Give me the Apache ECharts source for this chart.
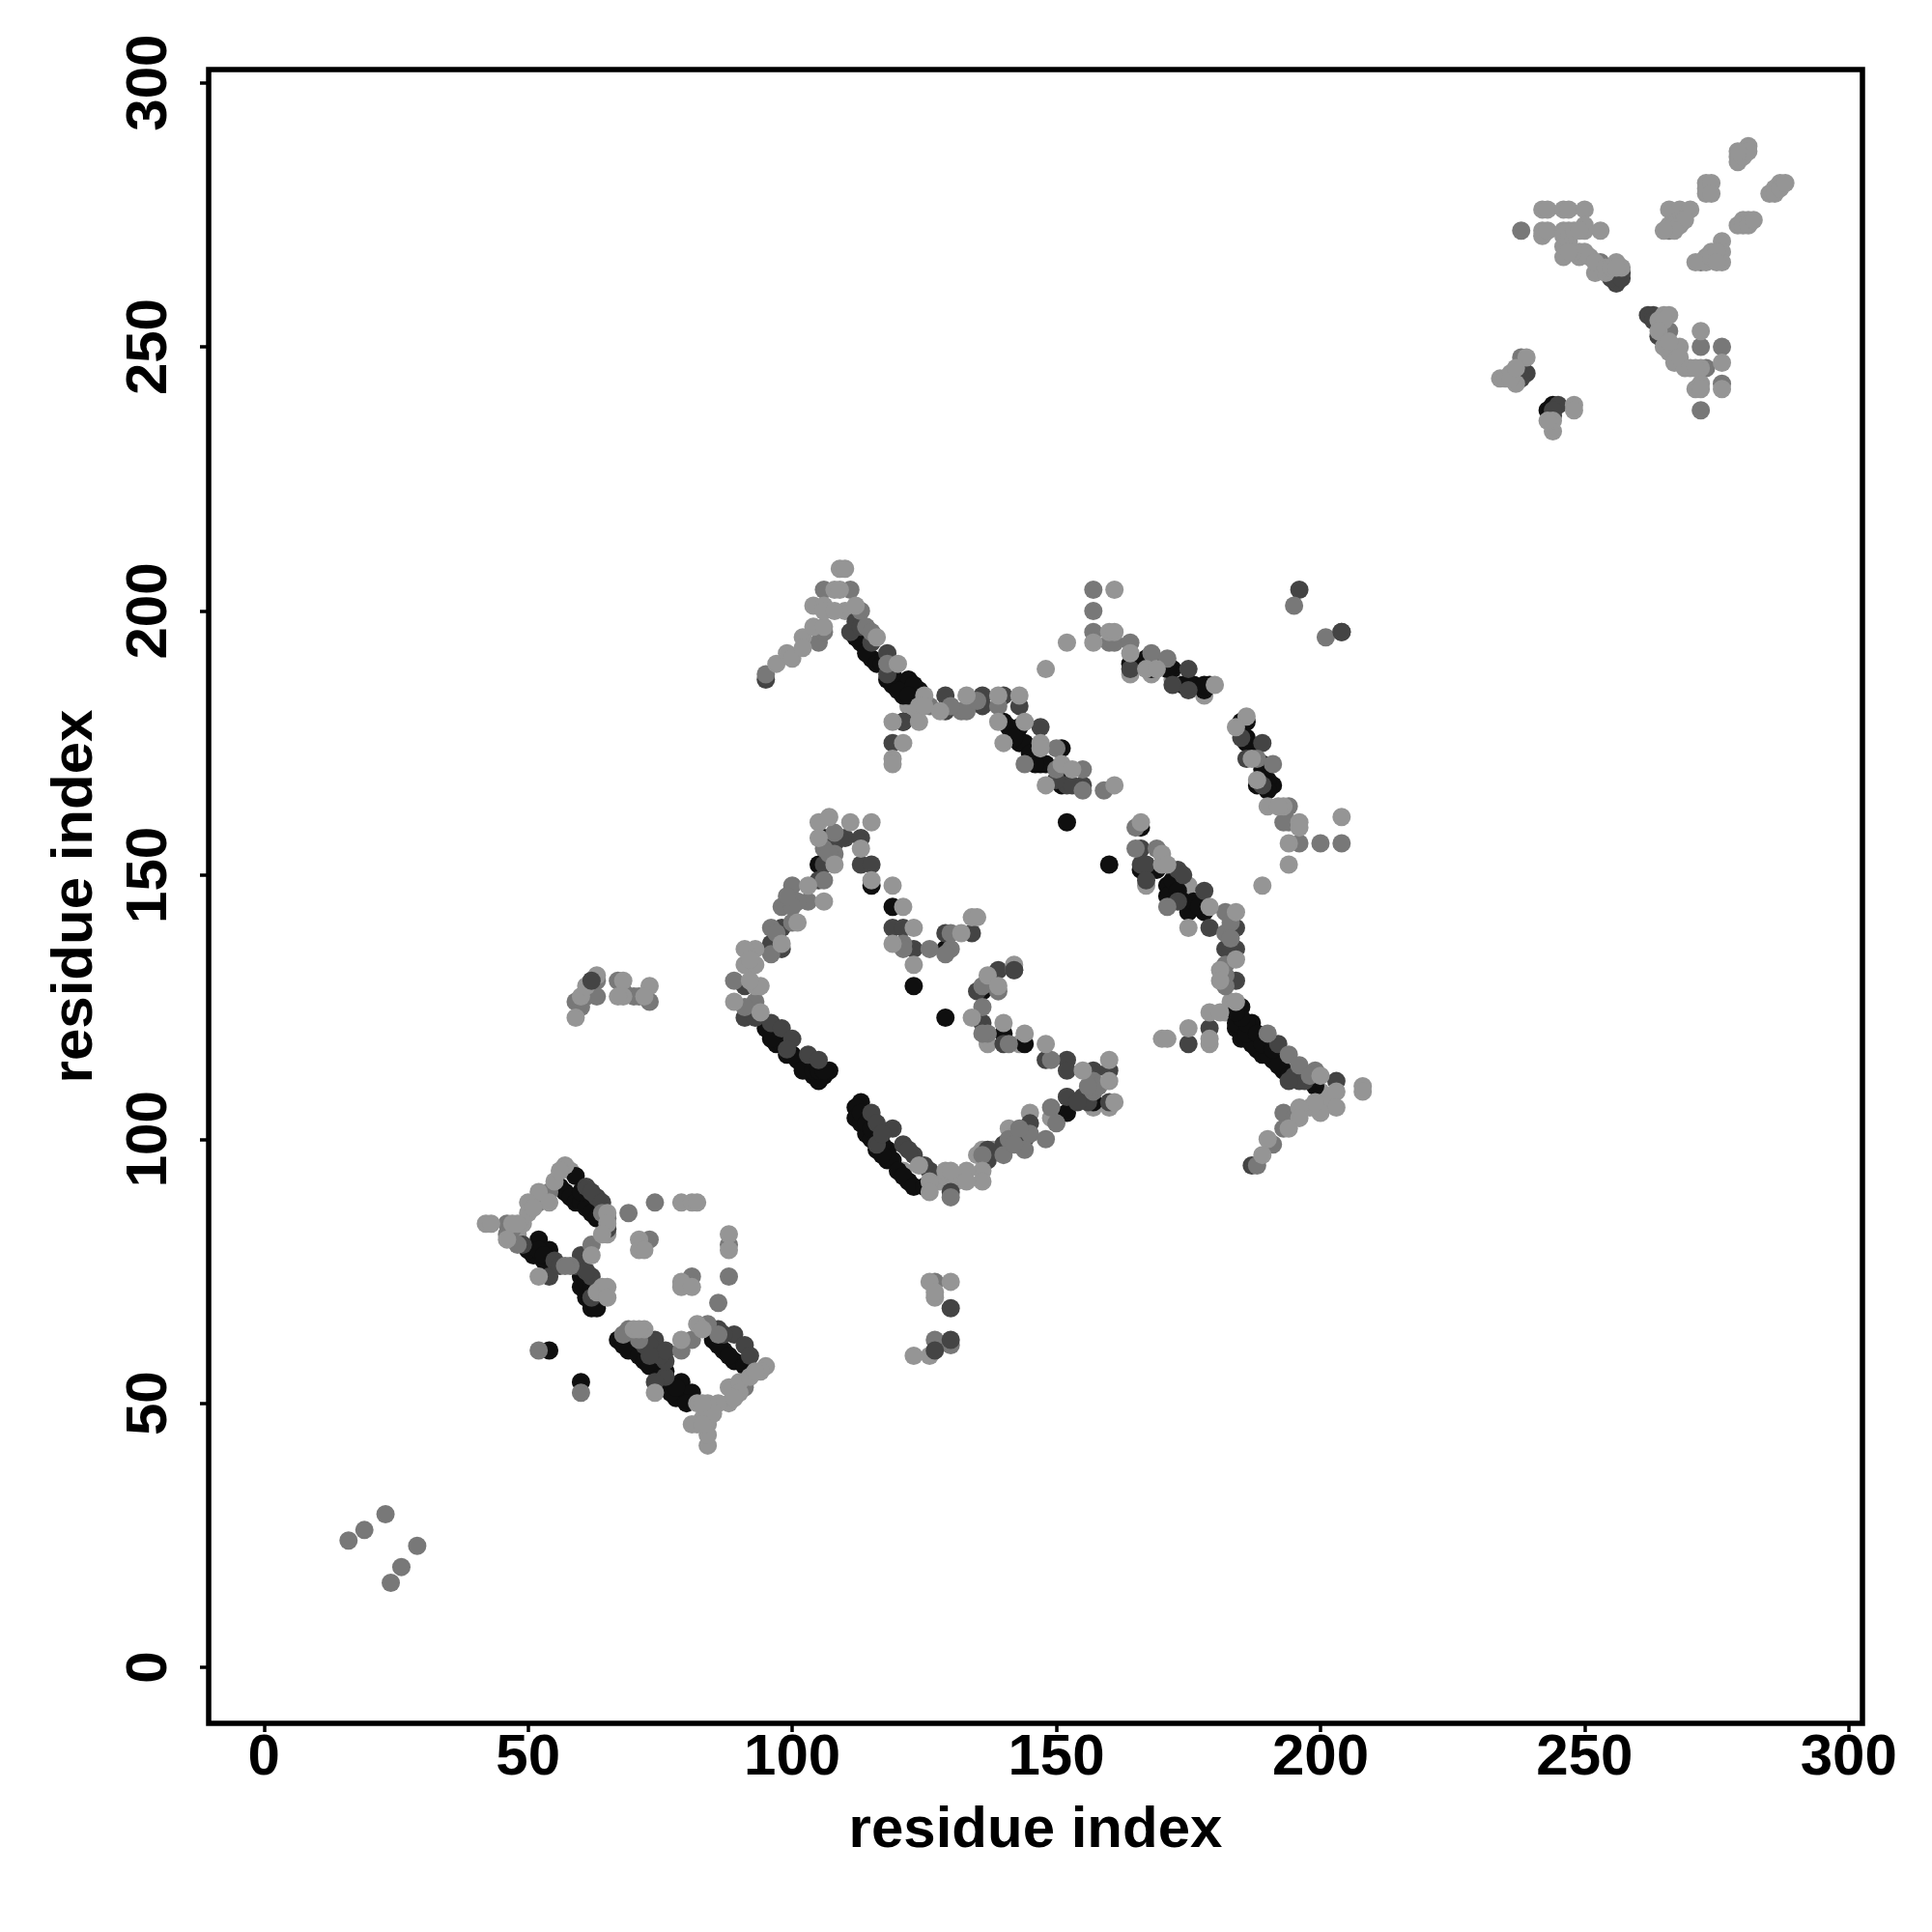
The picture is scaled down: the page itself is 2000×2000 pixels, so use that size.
<!DOCTYPE html>
<html><head><meta charset="utf-8">
<style>html,body{margin:0;padding:0;background:#fff}#c{width:2000px;height:2000px}</style>
<script src="https://cdn.jsdelivr.net/npm/echarts@6/dist/echarts.min.js"></script>
</head><body><div id="c"></div>
<script>
const tickValues = [0, 50, 100, 150, 200, 250, 300];
const axisTitle = "residue index";
const paleUnder = [[136,98],[138,98],[135,97],[141,102],[145,105],[149,104],[128,92],[131,92],[127,93],[152,108],[157,106],[160,106],[121,94],[83,47],[47,82],[48,82],[49,84],[58,94],[65,82],[122,182],[123,181],[200,109],[198,106],[201,107],[183,124],[182,124],[183,126],[110,200],[164,188],[168,188],[172,187],[178,184],[187,119],[167,148],[175,148],[143,118],[137,118]];
const blackPts = [[59,93],[56,91],[57,90],[58,89],[59,88],[60,88],[61,87],[62,86],[63,85],[52,81],[54,79],[51,78],[50,79],[53,77],[60,74],[62,68],[63,69],[61,70],[60,54],[54,60],[67,62],[79,54],[81,52],[78,51],[85,62],[87,60],[89,58],[92,56],[86,61],[88,59],[91,57],[76,56],[77,53],[68,61],[69,60],[71,59],[72,58],[73,57],[75,55],[75,53],[77,52],[80,50],[78,53],[60,72],[61,73],[60,90],[52,79],[53,78],[62,72],[63,68],[64,70],
[106,157],[105,152],[115,148],[119,144],[123,129],[129,123],[129,136],[136,128],[140,120],[144,118],[152,105],[157,107],[113,107],[112,106],[112,104],[113,103],[114,101],[115,100],[116,98],[118,96],[118,98],[119,96],[120,94],[122,92],[121,93],[123,91],[125,91],[113,105],[114,103],[115,102],[117,99],[117,97],
[96,120],[97,118],[102,114],[104,112],[106,112],[107,113],[98,118],[99,116],[101,115],[103,113],[105,111],[95,121],[96,119],[100,116],[102,113],[104,113],[105,113],[106,113],
[113,194],[115,191],[122,187],[119,186],[121,184],[124,185],[112,195],[114,192],[116,190],[118,187],[120,185],[123,186],[122,184],[119,188],[117,190],[121,179],[140,179],[143,178],[143,175],[144,175],[151,174],[147,171],[151,170],[148,171],[151,167],[152,160],[145,173],[146,171],[150,168],[141,178],[142,176],
[164,190],[167,191],[168,191],[168,189],[172,189],[171,189],[175,186],[174,186],[179,186],[178,185],[169,190],[176,186],[178,186],
[185,179],[186,179],[186,175],[186,176],[189,171],[191,167],[188,167],[190,168],[190,166],[166,159],[160,152],[166,151],[169,151],[167,150],[171,148],[172,147],[175,144],[174,145],[175,143],[168,151],[171,146],[172,149],[173,147],[176,145],[178,143],[177,144],[187,174],[189,170],
[185,125],[187,122],[184,121],[185,119],[191,115],[193,113],[199,110],[184,122],[188,117],[189,116],[187,118],[186,120],[190,116],[192,114],[194,112],[186,122],[185,123],[184,124],[188,120],[189,118],[191,117],
[238,245],[237,244],[244,239],[243,238]];
const darkPts = [[61,91],[63,89],[62,90],[64,88],[49,80],[54,74],[59,76],[60,78],[62,74],[61,75],[63,71],[62,70],[74,62],[72,61],[76,55],[74,54],[76,58],[89,63],[91,61],[86,64],[87,63],[65,83],[55,77],[56,76],[73,61],[75,59],[76,60],[92,59],
[110,157],[107,156],[106,152],[113,152],[115,152],[105,149],[119,140],[121,140],[113,157],[123,136],[139,132],[135,128],[136,122],[140,118],[148,115],[152,115],[152,113],[157,113],[160,113],[155,108],[160,107],[145,103],[144,100],[140,99],[137,98],[137,96],[130,90],[126,94],[123,97],[121,99],[119,102],[115,105],[116,103],[116,99],[117,101],[98,140],[98,136],[96,137],[91,129],[91,123],[93,123],[96,122],[98,121],[100,119],[99,117],[103,116],[105,115],[134,139],[129,139],[152,108],[108,156],[109,157],[156,107],[154,107],[125,95],[122,98],
[95,187],[111,196],[118,192],[118,188],[121,179],[119,175],[129,184],[129,181],[136,184],[136,182],[140,184],[143,182],[147,178],[152,167],[155,167],[112,198],[113,197],[115,194],[150,168],[153,167],
[196,204],[204,196],[175,189],[172,186],[175,185],[189,175],[185,176],[186,172],[189,167],[166,155],[166,152],[173,151],[167,152],[174,150],[178,147],[179,140],[184,140],[182,136],[184,136],[182,130],[184,130],[192,118],[196,111],[203,111],[187,95],[175,118],[179,121],[164,189],[167,149],[173,145],[195,112],[197,111],[183,136],[194,111],
[239,245],[245,239],[244,237],[256,262],[257,264],[262,256],[263,256],[264,252],[238,244],[244,238],[255,263],[257,263],[263,255],[73,59]];
const midPts = [[54,90],[52,88],[46,84],[48,80],[58,76],[57,76],[62,80],[69,86],[74,88],[73,81],[88,80],[88,74],[81,74],[86,69],[69,64],[81,62],[79,60],[84,65],[65,85],[60,52],[52,60],[68,63],[71,62],[47,83],[46,82],[64,86],[86,63],[91,53],[89,52],
[108,158],[108,154],[106,155],[100,148],[106,149],[103,145],[101,145],[98,144],[100,144],[96,140],[100,141],[96,135],[89,130],[93,126],[91,125],[121,137],[126,136],[130,136],[129,135],[130,139],[136,129],[136,125],[137,120],[136,120],[142,132],[139,128],[141,118],[149,115],[157,111],[157,109],[149,106],[150,103],[145,101],[148,100],[141,100],[140,97],[144,98],[136,97],[130,89],[107,154],[99,146],[97,139],[121,136],[158,110],[156,110],[143,102],[142,99],
[95,188],[105,194],[106,196],[106,204],[111,204],[113,200],[114,197],[132,181],[133,181],[139,182],[150,174],[144,171],[155,170],[155,166],[159,166],[150,170],[157,204],[157,200],[157,196],[160,194],[161,194],[164,194],[168,192],[115,196],[118,190],[135,183],[126,182],[130,182],
[195,201],[201,195],[171,191],[188,172],[191,171],[194,163],[194,160],[196,156],[200,156],[204,156],[165,159],[165,155],[169,155],[171,144],[182,143],[182,139],[182,133],[182,129],[190,120],[194,116],[196,114],[199,113],[193,105],[193,102],[191,99],[188,95],[183,141],[183,138],[193,160],[182,131],[198,112],[195,104],
[238,248],[266,253],[253,266],[266,272],[272,266],[276,250],[272,250],[276,243],[272,238],[273,246],[238,272],[24,16],[19,26],[16,24],[23,29],[29,23],[26,19],
[61,127],[59,126],[63,130],[67,130],[73,126],[130,61],[127,62],[127,73],[70,127],[62,128],[63,127],[60,125],[62,130],[68,128],[71,127]];
const palePts = [[42,84],[43,84],[47,84],[46,81],[57,95],[55,92],[52,90],[54,88],[50,88],[50,86],[65,86],[65,84],[64,82],[52,74],[62,78],[64,72],[64,71],[79,88],[81,88],[82,88],[71,81],[71,79],[72,79],[88,82],[88,79],[79,73],[79,72],[81,72],[70,64],[72,64],[74,52],[79,62],[82,65],[95,57],[88,53],[90,54],[92,55],[90,52],[88,50],[86,50],[84,50],[82,50],[84,48],[84,46],[82,46],[81,46],[84,42],[56,94],[51,87],[48,84],[63,71],[65,72],[65,70],[71,64],[83,64],[85,48],[84,44],[83,50],[83,46],[94,56],[93,56],[89,51],
[105,160],[107,161],[111,160],[115,160],[113,155],[105,157],[108,152],[115,149],[119,148],[103,148],[106,145],[101,141],[98,137],[93,136],[91,136],[91,133],[93,133],[93,129],[94,129],[89,126],[94,124],[121,144],[123,140],[119,137],[123,133],[134,123],[132,139],[134,142],[135,142],[142,133],[137,131],[139,129],[140,122],[144,120],[148,118],[160,115],[155,113],[160,111],[161,107],[136,94],[136,92],[133,94],[133,92],[129,94],[130,94],[126,92],[126,90],[124,95],[92,134],[92,130],
[97,190],[99,192],[100,191],[102,195],[102,193],[104,197],[106,197],[104,201],[106,201],[106,200],[108,200],[108,204],[109,204],[109,208],[110,208],[112,201],[116,195],[120,190],[125,184],[124,182],[124,179],[119,179],[121,175],[119,172],[119,171],[128,181],[133,184],[139,184],[143,184],[139,179],[144,179],[140,175],[147,175],[147,174],[151,171],[153,170],[148,167],[161,167],[148,189],[152,194],[161,204],[157,194],[160,196],[161,196],[164,192],[125,182],
[167,189],[169,189],[180,186],[186,180],[184,178],[187,172],[188,168],[190,163],[193,163],[196,160],[196,159],[194,156],[204,161],[189,148],[194,152],[166,160],[170,152],[170,154],[171,152],[175,140],[179,144],[184,143],[184,134],[181,132],[181,130],[179,124],[181,124],[184,126],[200,112],[203,109],[203,106],[208,110],[208,109],[200,105],[199,107],[196,106],[196,104],[194,102],[190,100],[189,97],[170,119],[171,119],[175,121],[179,118],[179,119],[192,163],
[234,244],[235,244],[236,245],[237,243],[239,248],[244,234],[244,236],[248,239],[248,238],[243,236],[236,244],[237,246],
[242,276],[243,276],[242,272],[242,271],[243,272],[246,276],[247,276],[250,276],[246,272],[246,271],[250,273],[250,272],[253,272],[246,269],[246,267],[250,268],[249,267],[249,268],[252,264],[254,264],[256,266],[257,265],[247,270],[248,268],[251,267],[252,266],[254,265],[255,265],[256,265],[247,272],[248,272],[249,272],[247,268],
[265,256],[266,256],[264,255],[266,249],[268,250],[267,247],[269,246],[272,253],[272,246],[276,247],[276,242],[271,242],[272,243],[265,255],[264,253],[265,250],[266,251],[268,248],[270,246],[271,246],[272,242],
[266,276],[268,276],[270,276],[266,273],[268,274],[267,273],[273,281],[273,280],[273,279],[281,288],[280,287],[279,286],[279,285],[287,281],[286,280],[285,279],[280,274],[281,274],[279,273],[280,273],[276,270],[276,268],[276,266],[274,268],[273,267],[273,266],[274,281],[274,279],[281,273],[282,274],[280,286],[281,287],[279,287],[286,279],[287,280],[288,281],[268,273],[269,274],[267,272],[265,272],[271,266],[274,267],[275,268],[275,266],
[59,123],[68,130],[68,127],[73,129],[126,73],[130,73],[127,70],[127,71],[123,59],[126,59],[60,127],[61,129],[63,131],[67,127],[72,127]];
const topPts = [[142,132],[130,68],[130,62],[127,60],[204,196],[62,130]];
const grays = {black:"#0f0f0f", dark:"#444444", mid:"#787878", pale:"#959595"};

function layer(data, color){
  return {type:"scatter", data:data, symbol:"circle", symbolSize:19, silent:true, clip:false,
    animation:false, itemStyle:{color:color, opacity:1}};
}
const labelFont = {fontFamily:"Liberation Sans", fontWeight:"bold", fontSize:60, color:"#000"};
function axis(extra){
  return Object.assign({type:"value", name:axisTitle, nameLocation:"middle",
    nameTextStyle:Object.assign({}, labelFont, {fontSize:60}),
    splitLine:{show:false}, axisLine:{show:false, onZero:false},
    axisTick:{show:true, length:9, customValues:tickValues, lineStyle:{color:"#000", width:3.5}}
  }, extra);
}
const chart = echarts.init(document.getElementById("c"), null, {renderer:"canvas"});
chart.setOption({
  animation:false, backgroundColor:"#fff",
  grid:{left:216, top:72, width:1712, height:1712, show:true, borderColor:"#000", borderWidth:5.5, backgroundColor:"transparent"},
  xAxis:axis({min:-10.48, max:302.6, nameGap:81,
    axisLabel:Object.assign({}, labelFont, {customValues:tickValues, margin:6})}),
  yAxis:axis({min:-10.6, max:302.5, nameGap:108,
    axisLabel:Object.assign({}, labelFont, {customValues:tickValues, rotate:90, margin:31, align:"center", verticalAlign:"bottom"})}),
  series:[layer(paleUnder,grays.pale), layer(blackPts,grays.black), layer(darkPts,grays.dark), layer(midPts,grays.mid), layer(palePts,grays.pale), layer(topPts,grays.dark)]
});
</script></body></html>
